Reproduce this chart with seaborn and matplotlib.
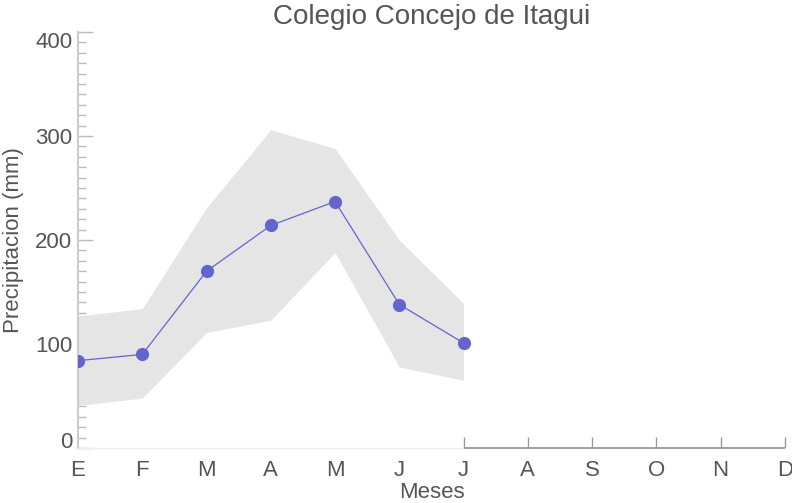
import matplotlib
matplotlib.use("Agg")
import matplotlib.pyplot as plt
import seaborn as sns
import pandas as pd
import numpy as np
from matplotlib.ticker import MultipleLocator

months = ["E", "F", "M", "A", "M", "J", "J", "A", "S", "O", "N", "D"]
mean_vals = [84, 90, 170, 214, 237, 138, 101]
upper_vals = [127, 134, 231, 306, 288, 200, 139]
lower_vals = [41, 48, 111, 123, 188, 78, 65]

sns.set_theme(style="white")
plt.rcParams['font.family'] = ['Liberation Sans', 'DejaVu Sans']

fig = plt.figure(figsize=(7.92, 5.03), dpi=100)
ax = fig.add_axes([0.0985, 0.1093, 0.8925, 0.827])

idx = list(range(len(mean_vals)))
df = pd.DataFrame({"mes": idx, "precip": mean_vals})

ax.fill_between(idx, lower_vals, upper_vals, color="#e5e5e5", linewidth=0, zorder=1)
sns.lineplot(data=df, x="mes", y="precip", ax=ax, color="#6464cc", linewidth=0.9,
             marker="o", markersize=9.5, markeredgewidth=0, zorder=3)
for ln in ax.lines:
    ln.set_clip_on(True)

ax.set_xlim(0, 11)
ax.set_ylim(0, 400)
ax.set_xticks(range(12))
ax.set_xticklabels(months)
ax.set_yticks([0, 100, 200, 300, 400])
ax.yaxis.set_minor_locator(MultipleLocator(10))

txt = "#555555"
ax.tick_params(axis="y", which="major", direction="in", length=11, width=1,
               color="#bbbbbb", labelsize=16, labelcolor=txt, pad=4, left=True)
ax.tick_params(axis="y", which="minor", direction="in", length=6, width=1,
               color="#bbbbbb", left=True)
ax.tick_params(axis="x", which="major", direction="in", length=8, width=1,
               color="#999999", labelsize=16, labelcolor=txt, pad=8.5, bottom=True)
for i, t in enumerate(ax.xaxis.get_major_ticks()):
    if i < 6:
        t.tick1line.set_visible(False)

fig.canvas.draw()
for t in ax.yaxis.get_major_ticks():
    if t.get_loc() == 0:
        t.label1.set_va("baseline")
    elif t.get_loc() == 400:
        t.label1.set_va("top")

for s in ["top", "right"]:
    ax.spines[s].set_visible(False)
ax.spines["left"].set_color("#cccccc")
ax.spines["left"].set_linewidth(1.5)
ax.spines["bottom"].set_color("#eeeeee")
ax.spines["bottom"].set_linewidth(1)
ax.hlines(0, 6, 11, colors="#999999", linewidth=1.3, clip_on=False, zorder=4)

ax.set_xlabel("Meses", fontsize=16, color=txt, labelpad=0.5)
ax.set_ylabel("Precipitacion (mm)", fontsize=16, color=txt, labelpad=8)
ax.set_title("Colegio Concejo de Itagui", fontsize=20, color=txt, pad=6)

fig.savefig("out.png", dpi=100)
